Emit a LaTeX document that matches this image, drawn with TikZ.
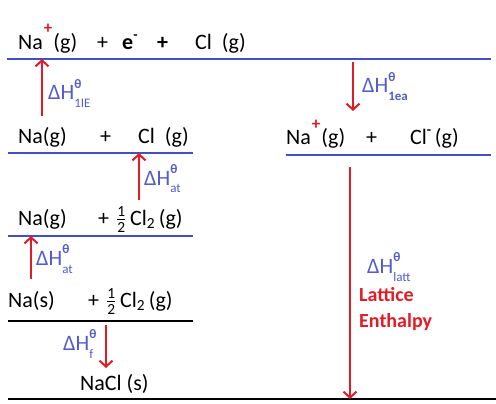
\documentclass[tikz,border=0pt]{standalone}
\usepackage{fontspec}
\setmainfont{Carlito}
\usepackage{amsmath}
\usetikzlibrary{arrows.meta,positioning}
\definecolor{levelblue}{RGB}{66,80,196}
\definecolor{labelblue}{RGB}{84,92,204}
\definecolor{arrowred}{RGB}{226,28,38}
% enthalpy label: Delta H with theta above and subscript below
\newcommand{\dH}[1]{ΔH\rlap{\raisebox{12pt}{\fontsize{13}{13}\selectfont\bfseries θ}}\raisebox{-8pt}{\fontsize{13}{13}\selectfont #1}}
\newcommand{\half}{$\frac{\text{1}}{\text{2}}$}
\newcommand{\cation}{\hspace{1pt}\raisebox{16pt}{\fontsize{17}{17}\selectfont\bfseries\color{arrowred}+}\hspace{1pt}}
\newcommand{\minus}{\raisebox{10pt}{\fontsize{14}{14}\selectfont\bfseries -}}

\begin{document}
\begin{tikzpicture}[x=1pt,y=-1pt,
    txt/.style={font=\fontsize{22}{26}\selectfont, inner sep=0pt, anchor=base west},
    lbl/.style={txt, text=labelblue},
    level/.style={draw=levelblue, line width=2pt},
    ground/.style={draw=black, line width=2pt},
    arr/.style={draw=arrowred, line width=2pt, -{Straight Barb[length=6pt,width=13pt]}}]
    \useasboundingbox (0,0) rectangle (496,404);

    % levels
    \coordinate (top-w) at (7,59);     \coordinate (top-e) at (491,59);
    \coordinate (gas-w) at (8,153);    \coordinate (gas-e) at (193,153);
    \coordinate (half-w) at (8,236);   \coordinate (half-e) at (193,236);
    \coordinate (std-w) at (8,321);    \coordinate (std-e) at (193,321);
    \coordinate (ion-w) at (286,155);  \coordinate (ion-e) at (491,155);
    \coordinate (salt-w) at (8,399);   \coordinate (salt-e) at (496,399);
    \draw[level] (top-w) -- (top-e);
    \draw[level] (gas-w) -- (gas-e);
    \draw[level] (half-w) -- (half-e);
    \draw[ground] (std-w) -- (std-e);
    \draw[level] (ion-w) -- (ion-e);
    \draw[ground] (salt-w) -- (salt-e);

    % species
    \node[txt] (naion1) at (18,50) {Na\cation(g)};
    \node[txt] (plus1) at (97,50) {+};
    \node[txt, font=\fontsize{22}{26}\selectfont\bfseries] (elec) at (122,50) {e\minus};
    \node[txt, font=\fontsize{22}{26}\selectfont\bfseries] (plus2) at (157,50) {+};
    \node[txt] (cl1) at (195,50) {Cl\hspace{10pt}(g)};

    \node[txt] (na2) at (18,143) {Na(g)};
    \node[txt] (plus3) at (100,143) {+};
    \node[txt] (cl2) at (138,143) {Cl\hspace{10pt}(g)};

    \node[txt] (na3) at (18,225) {Na(g)};
    \node[txt] (plus4) at (98,225) {+};
    \node[txt] (cltwo3) at (116,225) {\half\,Cl\textsubscript{2}\,(g)};

    \node[txt] (na4) at (8,307) {Na(s)};
    \node[txt] (plus5) at (88,307) {+};
    \node[txt] (cltwo4) at (106,307) {\half\,Cl\textsubscript{2}\,(g)};

    \node[txt] (nacl) at (80,390) {NaCl (s)};

    \node[txt] (naion2) at (286,145) {Na\cation(g)};
    \node[txt] (plus6) at (366,145) {+};
    \node[txt] (clion) at (410,145) {Cl\minus\,(g)};

    % steps
    \coordinate (ie0) at (42,116);
    \coordinate (at0) at (139,200);
    \coordinate (atb0) at (31,279);
    \coordinate (f0) at (106,325);
    \coordinate (ea0) at (353,62);
    \coordinate (latt0) at (350,167);
    \draw[arr] (ie0) -- (ie0 |- top-w);
    \draw[arr] (at0) -- (at0 |- gas-w);
    \draw[arr] (atb0) -- (atb0 |- half-w);
    \draw[arr] (f0) -- ++(0,43);
    \draw[arr] (ea0) -- ++(0,49);
    \draw[arr] (latt0) -- (latt0 |- salt-w);

    \node[lbl] (ie) at (48,100) {\dH{1IE}};
    \node[lbl] (at) at (144,185) {\dH{at}};
    \node[lbl] (atb) at (36,265) {\dH{at}};
    \node[lbl] (f) at (63,350) {\dH{f}};
    \node[lbl] (ea) at (362,93) {\dH{\bfseries 1ea}};
    \node[lbl] (latt) at (367,273) {\dH{latt}};
    \node[txt, font=\fontsize{20}{26}\selectfont\bfseries, text=arrowred, align=left] (lattice) at (359,327) {Lattice\\Enthalpy};
\end{tikzpicture}
\end{document}
